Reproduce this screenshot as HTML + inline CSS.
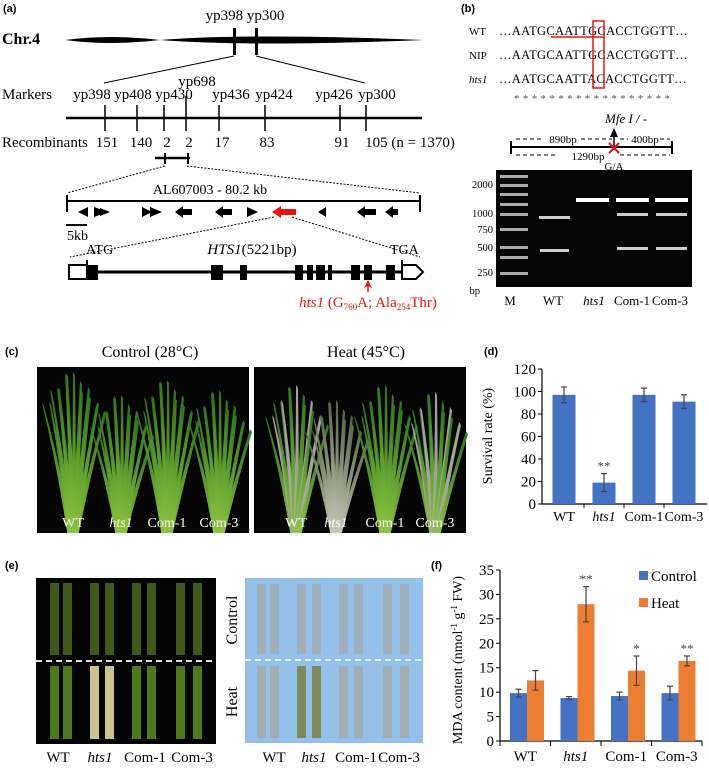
<!DOCTYPE html>
<html><head><meta charset="utf-8">
<style>
body{margin:0;background:#fff;}
svg{display:block;font-family:"Liberation Serif",serif;}
.pl{font-family:"Liberation Sans",sans-serif;font-weight:bold;font-size:11px;}
</style></head>
<body>
<svg id="fig" width="709" height="769" viewBox="0 0 709 769" xmlns="http://www.w3.org/2000/svg">
<defs>
<linearGradient id="leafG" x1="0" y1="0" x2="0" y2="1"><stop offset="0" stop-color="#2f7a1c"/><stop offset="1" stop-color="#8cc440"/></linearGradient>
<linearGradient id="leafD" x1="0" y1="0" x2="0" y2="1"><stop offset="0" stop-color="#5a6a4a"/><stop offset="1" stop-color="#c8c8b8"/></linearGradient>
</defs>

<!-- Panel A -->
<g>
<text class="pl" x="3" y="12">(a)</text>
<text x="245" y="20" font-size="15" text-anchor="middle">yp398 yp300</text>
<text x="2" y="44" font-size="16" font-weight="bold">Chr.4</text>
<path d="M65,40 Q110,34 160,40 Q250,33 424,40 Q250,47 160,40 Q110,46 65,40Z" fill="#000"/>
<rect x="233" y="28" width="3" height="27" fill="#000"/><rect x="255" y="28" width="3" height="27" fill="#000"/>
<line x1="234" y1="56" x2="104" y2="83" stroke="#000"/><line x1="256" y1="56" x2="365" y2="83" stroke="#000"/>
<text x="2" y="99" font-size="15">Markers</text>
<g font-size="15" text-anchor="middle">
<text x="92" y="99">yp398</text><text x="133" y="99">yp408</text><text x="174" y="99">yp430</text><text x="197" y="86">yp698</text><text x="231" y="99">yp436</text><text x="274" y="99">yp424</text><text x="334" y="99">yp426</text><text x="377" y="99">yp300</text></g>
<line x1="66" y1="118" x2="422" y2="118" stroke="#000" stroke-width="2.5"/>
<g stroke="#000" stroke-width="1.5"><line x1="105" y1="105" x2="105" y2="131"/><line x1="137" y1="105" x2="137" y2="131"/><line x1="164" y1="105" x2="164" y2="131"/><line x1="186" y1="96" x2="186" y2="131"/><line x1="219" y1="105" x2="219" y2="131"/><line x1="265" y1="105" x2="265" y2="131"/><line x1="340" y1="105" x2="340" y2="131"/><line x1="366" y1="105" x2="366" y2="131"/></g>
<text x="2" y="147" font-size="15">Recombinants</text>
<g font-size="15" text-anchor="middle">
<text x="107" y="147">151</text><text x="141" y="147">140</text><text x="167" y="147">2</text><text x="189" y="147">2</text><text x="222" y="147">17</text><text x="267" y="147">83</text><text x="342" y="147">91</text><text x="410" y="147">105 (n = 1370)</text></g>
<line x1="155" y1="158" x2="190" y2="158" stroke="#000" stroke-width="2.5"/><rect x="164" y="153" width="2" height="11"/><rect x="187" y="153" width="2" height="11"/>
<g stroke="#000" stroke-dasharray="2,1.5" fill="none"><line x1="165" y1="166" x2="67" y2="193"/><line x1="187" y1="166" x2="420" y2="193"/><line x1="274" y1="217" x2="70" y2="257"/><line x1="292" y1="217" x2="420" y2="257"/></g>
<text x="210" y="194" font-size="14" text-anchor="middle">AL607003 - 80.2 kb</text>
<line x1="67" y1="201" x2="420" y2="201" stroke="#000" stroke-width="2"/><line x1="67" y1="195" x2="67" y2="212" stroke="#000" stroke-width="2"/><line x1="420" y1="195" x2="420" y2="212" stroke="#000" stroke-width="2"/>
<g fill="#000">
<polygon points="78,212 88,207 88,217"/><polygon points="94,207 108,212 94,217 94,210"/><polygon points="100,208 110,212 100,216"/>
<polygon points="142,207 152,212 142,217"/><polygon points="150,207 162,212 150,217"/>
<polygon points="175,212 183,206 183,209 192,209 192,215 183,215 183,218"/>
<polygon points="215,212 223,206 223,209 232,209 232,215 223,215 223,218"/>
<polygon points="247,207 258,212 247,217"/>
<polygon points="318,212 326,207 326,217"/>
<polygon points="357,212 365,206 365,209 376,209 376,215 365,215 365,218"/>
<polygon points="385,212 393,206 393,209 398,209 398,215 393,215 393,218"/>
</g>
<polygon points="272,212 281,206 281,209 296,209 296,215 281,215 281,218" fill="#e8130f"/>
<line x1="66" y1="225" x2="87" y2="225" stroke="#000" stroke-width="2"/>
<text x="67" y="240" font-size="14">5kb</text>
<text x="86" y="254" font-size="14">ATG</text>
<text x="252" y="254" font-size="15" text-anchor="middle"><tspan font-style="italic">HTS1</tspan>(5221bp)</text>
<text x="390" y="254" font-size="14">TGA</text>
<g>
<line x1="68" y1="272" x2="405" y2="272" stroke="#000" stroke-width="3"/>
<rect x="69" y="265" width="18" height="14" fill="#fff" stroke="#000" stroke-width="2"/>
<rect x="86" y="260" width="2" height="20"/><rect x="401" y="260" width="2" height="20"/>
<rect x="86" y="265" width="12" height="15"/><rect x="211" y="265" width="12" height="15"/><rect x="240" y="265" width="7" height="15"/><rect x="295" y="265" width="8" height="15"/><rect x="307" y="265" width="6" height="15"/><rect x="316" y="265" width="9" height="15"/><rect x="328" y="265" width="4" height="15"/><rect x="351" y="265" width="9" height="15"/><rect x="364" y="265" width="8" height="15"/><rect x="386" y="265" width="9" height="15"/>
<polygon points="402,265 416,265 423,272 416,279 402,279" fill="#fff" stroke="#000" stroke-width="2"/>
</g>
<polygon points="368,280 364,288 368,286 372,288" fill="#e8130f"/><line x1="368" y1="284" x2="368" y2="292" stroke="#e8130f" stroke-width="1.5"/>
<text x="368" y="307" font-size="15" fill="#e8130f" text-anchor="middle"><tspan font-style="italic">hts1</tspan> (G<tspan font-size="9" dy="3">760</tspan><tspan dy="-3">A; Ala</tspan><tspan font-size="9" dy="3">254</tspan><tspan dy="-3">Thr)</tspan></text>
</g>

<!-- Panel B -->
<g>
<text class="pl" x="461" y="12">(b)</text>
<g font-size="11"><text x="469" y="35">WT</text><text x="469" y="59">NIP</text><text x="469" y="83" font-style="italic">hts1</text></g>
<g font-size="12.5" letter-spacing="0.3"><text x="499" y="35">…AATGCAATTGCACCTGGTT…</text><text x="499" y="59">…AATGCAATTGCACCTGGTT…</text><text x="499" y="83">…AATGCAATTACACCTGGTT…</text><text x="514" y="102" font-size="11" fill="#555">* * * * * * * * *    * * * * * * * * *</text></g>
<line x1="551" y1="37" x2="604" y2="37" stroke="#e8130f" stroke-width="1.5"/>
<rect x="593" y="21" width="11" height="67" fill="none" stroke="#e8130f" stroke-width="1.5"/>
<text x="605" y="123" font-size="13" font-style="italic">Mfe I / -</text>
<polygon points="614,128 610,137 618,137"/><line x1="614" y1="134" x2="614" y2="150" stroke="#000" stroke-width="1.5"/>
<line x1="511" y1="147" x2="672" y2="147" stroke="#000" stroke-width="2"/><line x1="511" y1="141" x2="511" y2="154" stroke="#000" stroke-width="2"/><line x1="672" y1="141" x2="672" y2="154" stroke="#000" stroke-width="2"/>
<g stroke="#000" stroke-dasharray="4,3"><line x1="516" y1="139" x2="544" y2="139"/><line x1="581" y1="139" x2="612" y2="139"/><line x1="620" y1="139" x2="628" y2="139"/><line x1="660" y1="139" x2="670" y2="139"/><line x1="516" y1="155" x2="558" y2="155"/><line x1="620" y1="155" x2="670" y2="155"/></g>
<g font-size="11" text-anchor="middle"><text x="563" y="143">890bp</text><text x="645" y="143">400bp</text><text x="588" y="160">1290bp</text><text x="614" y="170">G/A</text></g>
<path d="M609,143 L619,153 M619,143 L609,153" stroke="#e8130f" stroke-width="2"/>
<rect x="496" y="170" width="196" height="117" fill="#060606"/>
<g>
<g fill="#aaa"><rect x="500" y="175" width="28" height="3"/><rect x="500" y="184" width="28" height="3"/><rect x="500" y="193" width="28" height="3"/><rect x="500" y="203" width="28" height="3"/><rect x="500" y="213" width="28" height="3"/><rect x="500" y="228" width="28" height="3"/><rect x="500" y="246" width="28" height="3"/><rect x="500" y="256" width="28" height="3"/><rect x="500" y="272" width="28" height="3"/></g>
<g fill="#ccc"><rect x="539" y="216" width="31" height="3"/><rect x="540" y="249" width="29" height="3"/><rect x="576" y="198" width="33" height="4" fill="#fff"/><rect x="616" y="198" width="33" height="4" fill="#fff"/><rect x="617" y="213" width="31" height="3"/><rect x="617" y="247" width="31" height="3"/><rect x="655" y="198" width="33" height="4" fill="#fff"/><rect x="656" y="213" width="31" height="3"/><rect x="656" y="247" width="31" height="3"/></g></g>
<g font-size="10.5" text-anchor="end"><text x="493" y="188">2000</text><text x="493" y="217">1000</text><text x="493" y="233">750</text><text x="493" y="251">500</text><text x="493" y="276">250</text><text x="480" y="294">bp</text></g>
<g font-size="13" text-anchor="middle"><text x="510" y="305">M</text><text x="553" y="305">WT</text><text x="594" y="305" font-style="italic">hts1</text><text x="632" y="305">Com-1</text><text x="670" y="305">Com-3</text></g>
</g>

<!-- Panel C -->
<g>
<text class="pl" x="5" y="355">(c)</text>
<text x="150" y="357" font-size="16" text-anchor="middle">Control (28°C)</text>
<text x="366" y="357" font-size="16" text-anchor="middle">Heat (45°C)</text>
<rect x="37" y="367" width="212" height="166" fill="#050505"/>
<rect x="254" y="367" width="212" height="166" fill="#050505"/>
<g id="plants"></g>
<g font-size="14" fill="#fff" text-anchor="middle"><text x="73" y="527">WT</text><text x="121" y="527" font-style="italic">hts1</text><text x="167" y="527">Com-1</text><text x="219" y="527">Com-3</text><text x="296" y="527">WT</text><text x="336" y="527" font-style="italic">hts1</text><text x="385" y="527">Com-1</text><text x="435" y="527">Com-3</text></g>
</g>

<!-- Panel E -->
<g>
<text class="pl" x="5" y="569">(e)</text>
<rect x="36" y="578" width="180" height="166" fill="#030303"/>
<rect x="245" y="578" width="178" height="165" fill="#93c1ea"/>
<g id="leaves"></g>
<line x1="36" y1="661" x2="216" y2="661" stroke="#ddd" stroke-width="2" stroke-dasharray="6,4"/>
<line x1="245" y1="660" x2="423" y2="660" stroke="#fff" stroke-width="1.5" stroke-dasharray="6,4"/>
<text transform="translate(237,620) rotate(-90)" font-size="16" text-anchor="middle">Control</text>
<text transform="translate(237,702) rotate(-90)" font-size="16" text-anchor="middle">Heat</text>
<g font-size="15" text-anchor="middle"><text x="58" y="762">WT</text><text x="100" y="762" font-style="italic">hts1</text><text x="145" y="762">Com-1</text><text x="192" y="762">Com-3</text><text x="274" y="762">WT</text><text x="314" y="762" font-style="italic">hts1</text><text x="356" y="762">Com-1</text><text x="399" y="762">Com-3</text></g>
</g>

<!-- Panel D -->
<g id="chartD">
<text class="pl" x="484" y="355">(d)</text>
<text transform="translate(492,436) rotate(-90)" font-size="14" text-anchor="middle">Survival rate  (%)</text>
</g>
<!-- Panel F -->
<g id="chartF">
<text class="pl" x="431" y="569">(f)</text>
<text transform="translate(462,660) rotate(-90)" font-size="14" text-anchor="middle">MDA content (nmol<tspan font-size="9" dy="-5">-1</tspan><tspan dy="5"> g</tspan><tspan font-size="9" dy="-5">-1</tspan><tspan dy="5"> FW)</tspan></text>
</g>
</svg>
<script>
const NS='http://www.w3.org/2000/svg';
// ---- Chart D data ----
const dCategories=['WT','hts1','Com-1','Com-3'];
const dValues=[97,19,97,91];
const dErrors=[7,8,6,6];
const dSig=['','**','',''];
const dTicks=[0,20,40,60,80,100,120];
// ---- Chart F data ----
const fCategories=['WT','hts1','Com-1','Com-3'];
const fControl=[9.8,8.8,9.2,9.8];
const fControlErr=[0.8,0.3,0.8,1.4];
const fHeat=[12.4,28,14.4,16.4];
const fHeatErr=[2,3.6,3,1];
const fSig=['','**','*','**'];
const fTicks=[0,5,10,15,20,25,30,35];
const fSeries=['Control','Heat'];

function el(tag,attrs,parent,txt){const e=document.createElementNS(NS,tag);for(const k in attrs)e.setAttribute(k,attrs[k]);if(txt!==undefined)e.textContent=txt;parent.appendChild(e);return e;}
const BLUE='#4472c4',ORANGE='#ed7d31';

// Chart D
(function(){
 const g=document.getElementById('chartD');
 const x0=542,x1=702,y0=504,y1=369,max=120;
 const y=v=>y0-(v/max)*(y0-y1);
 const bw=(x1-x0)/dCategories.length;
 const cx=i=>x0+bw*(i+0.5)+2;
 el('line',{x1:x0,y1:y1,x2:x0,y2:y0,stroke:'#000','stroke-width':1.2},g);
 el('line',{x1:x0,y1:y0,x2:x1+5,y2:y0,stroke:'#000','stroke-width':1.2},g);
 dTicks.forEach(t=>{el('line',{x1:x0-4,y1:y(t),x2:x0,y2:y(t),stroke:'#000'},g);
  const tx=el('text',{x:x0-6,y:y(t)+5,'font-size':15,'text-anchor':'end'},g,String(t));
  
  });
 dCategories.forEach((c,i)=>{
  const b=el('rect',{x:cx(i)-11.5,y:y(dValues[i]),width:23,height:y0-y(dValues[i]),fill:BLUE},g);
  
  
  const hi=y(dValues[i]+dErrors[i]),lo=y(dValues[i]-dErrors[i]);
  el('path',{d:`M${cx(i)},${hi}V${lo}M${cx(i)-3},${hi}H${cx(i)+3}M${cx(i)-3},${lo}H${cx(i)+3}`,stroke:'#444','stroke-width':1.2,fill:'none'},g);
  if(dSig[i])el('text',{x:cx(i),y:hi-3,'font-size':13,'text-anchor':'middle',fill:'#444'},g,dSig[i]);
  if(i>0)el('line',{x1:x0+bw*i+2,y1:y0,x2:x0+bw*i+2,y2:y0+4,stroke:'#000'},g);
  const lb=el('text',{x:cx(i),y:521,'font-size':14,'text-anchor':'middle','font-style':c==='hts1'?'italic':'normal'},g,c);
  
  
 });
})();

// Chart F
(function(){
 const g=document.getElementById('chartF');
 const x0=500,x1=702,y0=741,y1=570,max=35;
 const y=v=>y0-(v/max)*(y0-y1);
 const gw=(x1-x0)/fCategories.length;
 el('line',{x1:x0,y1:y1,x2:x0,y2:y0,stroke:'#000','stroke-width':1.2},g);
 el('line',{x1:x0,y1:y0,x2:x1,y2:y0,stroke:'#000','stroke-width':1.2},g);
 fTicks.forEach(t=>{el('line',{x1:x0-4,y1:y(t),x2:x0,y2:y(t),stroke:'#000'},g);
  const tx=el('text',{x:x0-6,y:y(t)+5,'font-size':15,'text-anchor':'end'},g,String(t));
  
  });
 for(let i=0;i<=fCategories.length;i++)el('line',{x1:x0+gw*i,y1:y0,x2:x0+gw*i,y2:y0+5,stroke:'#000'},g);
 const err=(cx,v,e)=>{const hi=y(v+e),lo=y(v-e);el('path',{d:`M${cx},${hi}V${lo}M${cx-3},${hi}H${cx+3}M${cx-3},${lo}H${cx+3}`,stroke:'#444','stroke-width':1.2,fill:'none'},g);return hi;};
 fCategories.forEach((c,i)=>{
  const gx=x0+gw*i+10;
  const b1=el('rect',{x:gx,y:y(fControl[i]),width:17,height:y0-y(fControl[i]),fill:BLUE},g);
  
  
  const b2=el('rect',{x:gx+17,y:y(fHeat[i]),width:17,height:y0-y(fHeat[i]),fill:ORANGE},g);
  
  
  err(gx+8.5,fControl[i],fControlErr[i]);
  const hi=err(gx+25.5,fHeat[i],fHeatErr[i]);
  if(fSig[i])el('text',{x:gx+25.5,y:hi-3,'font-size':13,'text-anchor':'middle',fill:'#444'},g,fSig[i]);
  const lb=el('text',{x:x0+gw*(i+0.5),y:761,'font-size':15,'text-anchor':'middle','font-style':c==='hts1'?'italic':'normal'},g,c);
  
  
 });
 fSeries.forEach((s,i)=>{
  const lg=el('g',{},g);
  
  
  el('rect',{x:639,y:571+i*27,width:9,height:9,fill:i?ORANGE:BLUE},lg);
  el('text',{x:651,y:581+i*27,'font-size':15},lg,s);
 });
})();

// Photo decoration: plants
(function(){
 const g=document.getElementById('plants');
 const clumps=[[73,0],[121,0],[167,0],[219,0],[296,1],[336,2],[385,0],[435,1]];
 const tops=[372,395,380,390,385,400,385,392];
 clumps.forEach((c,k)=>{
  const [cx,t]=c;const top=tops[k];
  for(let j=-7;j<=7;j++){
   const tx=cx+j*4+(j%2)*3;const ty=top+Math.abs(j)*5+(j%3)*4;
   const col=t===2?'url(#leafD)':(t===1&&j%3===0?'#a8a8a0':'url(#leafG)');
   el('path',{d:`M${cx-3+j*0.4},533 Q${(cx+tx)/2},${(533+ty)/2} ${tx},${ty} L${tx+2},${ty+3} Q${(cx+tx)/2+3},${(533+ty)/2} ${cx+3+j*0.4},533Z`,fill:col,opacity:0.95},g);
  }
 });
})();
// Leaves
(function(){
 const g=document.getElementById('leaves');
 const lx=[50,63,90,105,132,147,176,193];
 lx.forEach((x,i)=>{
  const hts=(i===2||i===3);
  el('rect',{x:x,y:583,width:9,height:72,fill:'#3d5a18'},g);
  el('rect',{x:x,y:666,width:9,height:73,fill:hts?'#c9c38e':'#4f7a1c'},g);
  const bx=x+207;
  el('rect',{x:bx,y:584,width:9,height:70,fill:'#9fb0bc'},g);
  el('rect',{x:bx,y:666,width:9,height:72,fill:hts?'#7f8a5c':'#a2aeb2'},g);
 });
})();
</script>
</body></html>
